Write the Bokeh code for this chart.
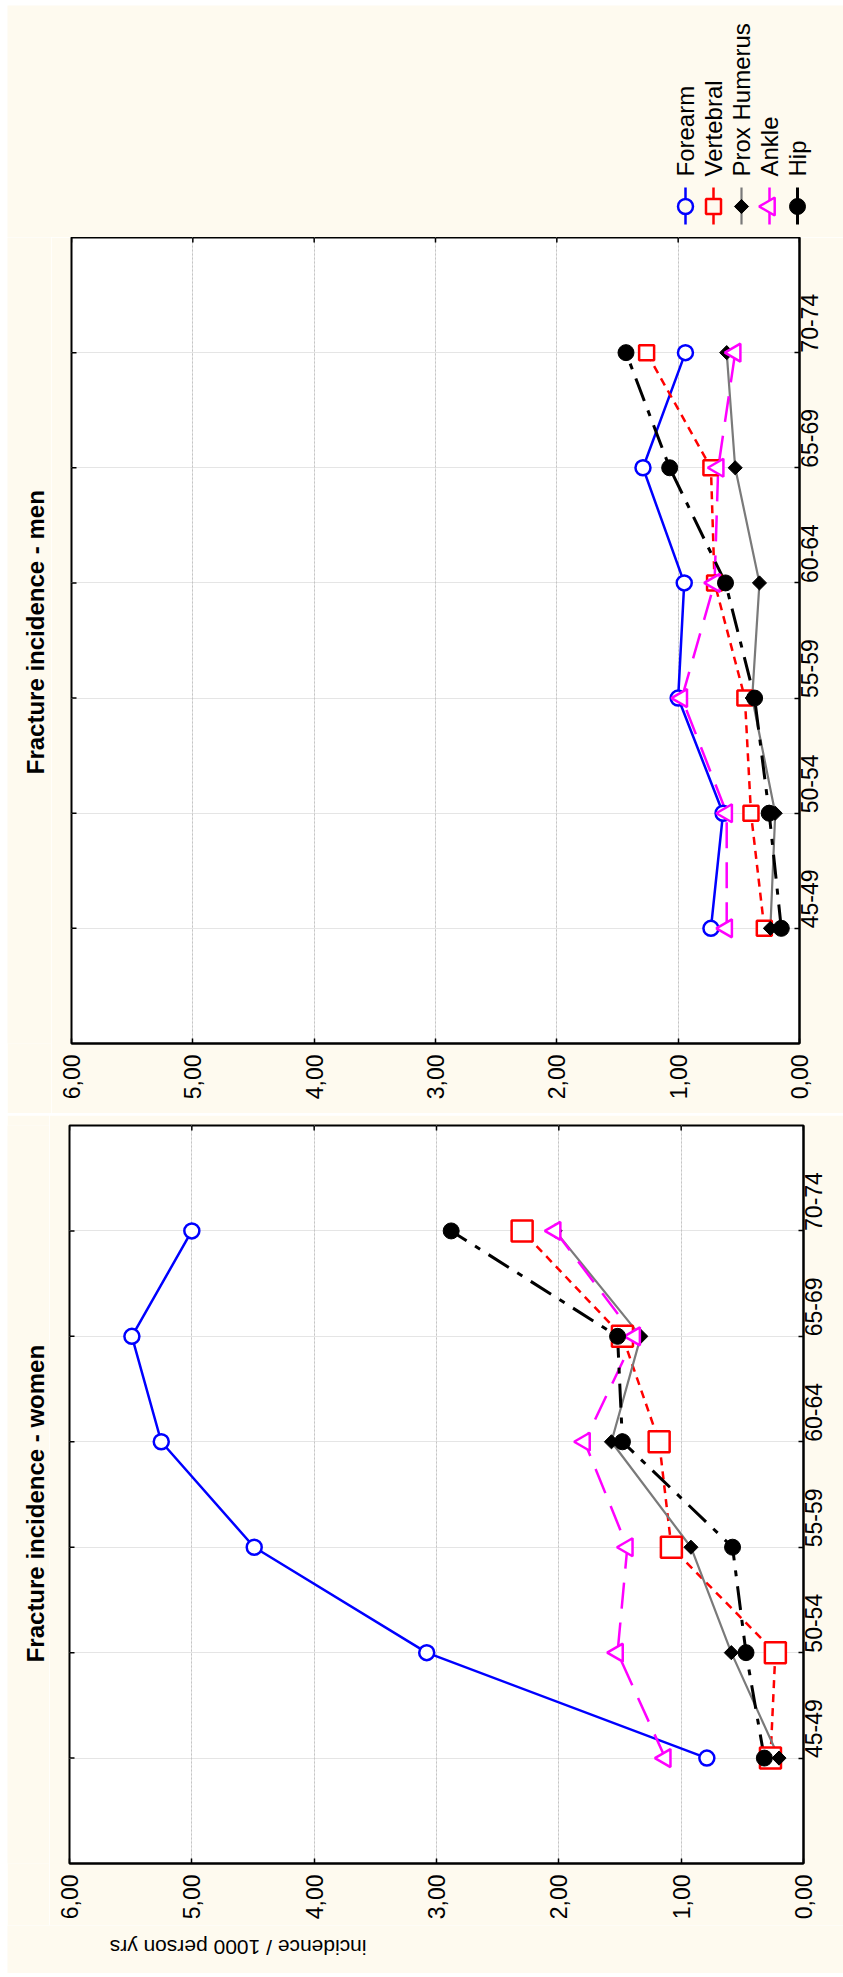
import math
from bokeh.plotting import figure
from bokeh.models import (Range1d, FixedTicker, LinearAxis, ColumnDataSource, Grid, Spacer)
from bokeh.layouts import column, row
from bokeh.embed import file_html
from bokeh.resources import INLINE
from bokeh.core.properties import value

# ---------------- data ----------------
categories = ["45-49", "50-54", "55-59", "60-64", "65-69", "70-74"]
series_names = ["Forearm", "Vertebral", "Prox Humerus", "Ankle", "Hip"]

men_forearm = [0.73, 0.63, 1.00, 0.95, 1.29, 0.94]
men_vertebral = [0.29, 0.40, 0.45, 0.70, 0.73, 1.26]
men_prox_humerus = [0.24, 0.20, 0.39, 0.33, 0.53, 0.60]
men_ankle = [0.60, 0.60, 0.97, 0.70, 0.67, 0.53]
men_hip = [0.15, 0.25, 0.37, 0.61, 1.07, 1.43]

women_forearm = [0.79, 3.08, 4.49, 5.25, 5.49, 5.00]
women_vertebral = [0.27, 0.23, 1.08, 1.18, 1.48, 2.30]
women_prox_humerus = [0.20, 0.59, 0.92, 1.57, 1.33, 2.03]
women_ankle = [1.13, 1.52, 1.44, 1.79, 1.38, 2.03]
women_hip = [0.32, 0.47, 0.58, 1.48, 1.52, 2.88]

value_ticks = [0, 1, 2, 3, 4, 5, 6]
value_tick_labels = ["0,00", "1,00", "2,00", "3,00", "4,00", "5,00", "6,00"]

men_title = "Fracture incidence - men"
women_title = "Fracture incidence - women"
y_label = "incidence / 1000 person yrs"

# ---------------- styles ----------------
CREAM = "#fefaef"
FONT = "Liberation Sans"
TICK_LEN = 5  # px, inward
styles = {
    "Forearm": dict(color="#0000ff", dash="solid", width=2.5, marker="circle", angle=0.0,
                    size=15, fill="white", mline="#0000ff"),
    "Vertebral": dict(color="#ff0000", dash="8 6", width=2.5, marker="square", angle=0.0,
                      size=15, fill="white", mline="#ff0000"),
    "Prox Humerus": dict(color="#7a7a7a", dash="solid", width=2.2, marker="square",
                         angle=math.pi / 4, size=10, fill="black", mline="black"),
    "Ankle": dict(color="#ff00ff", dash="26 14", width=2.5, marker="triangle",
                  angle=math.pi / 2, size=18, fill="white", mline="#ff00ff"),
    "Hip": dict(color="black", dash="24 10 6 10", width=3, marker="circle", angle=0.0,
                size=16, fill="black", mline="black"),
}

LEFT_PAD = 7
TOP_PAD = 5
PANEL_W = 843 - LEFT_PAD
INNER_LEFT = 20  # left border inside each chart figure (room for the "6,00" label)


def blank_fig(width, height):
    f = figure(width=width, height=height, output_backend="svg", toolbar_location=None,
               x_range=Range1d(0, width), y_range=Range1d(0, height),
               x_axis_location=None, y_axis_location=None, min_border=0)
    f.background_fill_color = CREAM
    f.border_fill_color = CREAM
    f.outline_line_color = None
    f.xgrid.visible = False
    f.ygrid.visible = False
    return f


def title_fig(width, height, text, tx, ty):
    f = blank_fig(width, height)
    f.text(x=[tx], y=[ty], text=[text], angle=math.pi / 2, text_align="center",
           text_baseline="middle", text_font=value(FONT), text_font_style="bold",
           text_font_size="24px", text_color="black")
    return f


def make_panel(series_vals, width, height, b_top, b_bottom, b_right, square_size):
    n_cat = len(categories)
    vmax = value_ticks[-1]
    p = figure(width=width, height=height, output_backend="svg", toolbar_location=None,
               x_range=Range1d(vmax, 0), y_range=Range1d(0, n_cat + 1),
               x_axis_location=None, y_axis_location=None,
               min_border_top=b_top, min_border_bottom=b_bottom,
               min_border_left=INNER_LEFT, min_border_right=b_right)
    p.background_fill_color = "white"
    p.border_fill_color = CREAM
    p.outline_line_color = "black"
    p.outline_line_width = 2

    vticker = FixedTicker(ticks=value_ticks)
    pos = [i + 1 for i in range(n_cat)]
    cticker = FixedTicker(ticks=pos)

    common = dict(major_tick_in=TICK_LEN, major_tick_out=0, minor_tick_in=0, minor_tick_out=0,
                  axis_line_color="black", axis_line_width=2, major_tick_line_width=1.5,
                  major_tick_line_color="black")

    bottom = LinearAxis(ticker=vticker,
                        major_label_overrides={t: l for t, l in zip(value_ticks, value_tick_labels)},
                        major_label_orientation=math.pi / 2, major_label_standoff=11,
                        major_label_text_font=FONT, major_label_text_font_size="23px",
                        major_label_text_color="black", **common)
    p.add_layout(bottom, "below")
    right = LinearAxis(ticker=cticker,
                       major_label_overrides={i + 1: c for i, c in enumerate(categories)},
                       major_label_orientation=math.pi / 2, major_label_standoff=10,
                       major_label_text_font=FONT, major_label_text_font_size="23px",
                       major_label_text_color="black", **common)
    p.add_layout(right, "right")

    p.add_layout(Grid(dimension=0, ticker=FixedTicker(ticks=value_ticks[1:-1]),
                      grid_line_color="#c4c4c4", grid_line_dash="2 2", grid_line_width=1))

    # mirrored inward ticks on the top and left frame edges
    frame_h = height - b_top - b_bottom
    frame_w = width - INNER_LEFT - b_right
    dy = TICK_LEN * (n_cat + 1) / frame_h
    dx = TICK_LEN * vmax / frame_w
    top_top = n_cat + 1
    p.segment(x0=value_ticks, y0=[top_top] * len(value_ticks), x1=value_ticks,
              y1=[top_top - dy] * len(value_ticks), line_color="black", line_width=1.5)
    p.segment(x0=[vmax] * n_cat, y0=pos, x1=[vmax - dx] * n_cat, y1=pos,
              line_color="black", line_width=1.5)

    for name, vals in zip(series_names, series_vals):
        st = styles[name]
        src = ColumnDataSource(dict(v=vals, pos=pos))
        p.line(x="v", y="pos", source=src, line_color=st["color"], line_width=st["width"],
               line_dash=st["dash"])
    for name, vals in zip(series_names, series_vals):
        st = styles[name]
        src = ColumnDataSource(dict(v=vals, pos=pos))
        size = square_size if name == "Vertebral" else st["size"]
        p.scatter(x="v", y="pos", source=src, marker=st["marker"], size=size,
                  angle=st["angle"], fill_color=st["fill"], line_color=st["mline"],
                  line_width=2.5 if st["fill"] == "white" else 1)
    return p


# ---------------- legend strip (page y 5..237) ----------------
LEG_H = 232
leg = blank_fig(PANEL_W, LEG_H)
LEG_X0, LEG_DX = 678, 28
leg_x = [LEG_X0 + i * LEG_DX for i in range(len(series_names))]
for i, name in enumerate(series_names):
    st = styles[name]
    leg.segment(x0=[leg_x[i]], y0=[13], x1=[leg_x[i]], y1=[50], line_color=st["color"],
                line_width=st["width"])
    leg.scatter(x=[leg_x[i]], y=[31], marker=st["marker"], size=st["size"], angle=st["angle"],
                fill_color=CREAM if st["fill"] == "white" else st["fill"],
                line_color=st["mline"], line_width=2.5 if st["fill"] == "white" else 1)
leg.text(x=leg_x, y=[61] * len(series_names), text=series_names, angle=math.pi / 2,
         text_align="left", text_baseline="middle", text_font=value(FONT),
         text_font_size="24px", text_color="black")

# ---------------- men panel (page y 237..1113, frame x 71..799) ----------------
MEN_H = 876
men_tf_w = 71 - LEFT_PAD - INNER_LEFT
men_tf = title_fig(men_tf_w, MEN_H, men_title, 28, 447)
men = make_panel([men_forearm, men_vertebral, men_prox_humerus, men_ankle, men_hip],
                 width=843 - LEFT_PAD - men_tf_w, height=MEN_H, b_top=0, b_bottom=70,
                 b_right=44, square_size=15)

# ---------------- women panel (page y 1115..1925, frame x 69..803) ----------------
WOMEN_H = 810
women_tf_w = 69 - LEFT_PAD - INNER_LEFT
women_tf = title_fig(women_tf_w, WOMEN_H, women_title, 28, 395)
women = make_panel([women_forearm, women_vertebral, women_prox_humerus, women_ankle, women_hip],
                   width=843 - LEFT_PAD - women_tf_w, height=WOMEN_H, b_top=10, b_bottom=62,
                   b_right=40, square_size=21)

# ---------------- y label strip (page y 1925..1973) ----------------
YL_H = 48
ylab = blank_fig(PANEL_W, YL_H)
ylab.text(x=[359], y=[26], text=[y_label], angle=math.pi, text_align="left",
          text_baseline="middle", text_font=value(FONT),
          text_font_size="21px", text_color="black")

layout = column(
    Spacer(height=TOP_PAD),
    row(Spacer(width=LEFT_PAD), leg, spacing=0),
    row(Spacer(width=LEFT_PAD), men_tf, men, spacing=0),
    Spacer(height=2),
    row(Spacer(width=LEFT_PAD), women_tf, women, spacing=0),
    row(Spacer(width=LEFT_PAD), ylab, spacing=0),
    spacing=0,
)
open("out.html", "w").write(file_html(layout, INLINE))
